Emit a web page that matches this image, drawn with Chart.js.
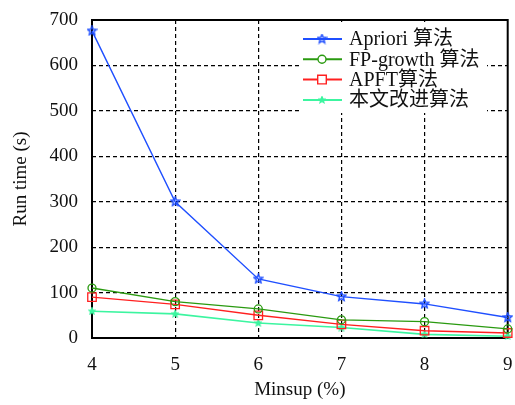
<!DOCTYPE html>
<html>
<head>
<meta charset="utf-8">
<script src="https://cdn.jsdelivr.net/npm/chart.js@4.4.1/dist/chart.umd.min.js"></script>
<style>
  html, body { margin: 0; padding: 0; background: #fff; }
  #wrap { width: 515px; height: 405px; }
</style>
</head>
<body>
<div id="wrap"><canvas id="myChart" width="515" height="405"></canvas></div>
<script>
// data
const minsup = [4, 5, 6, 7, 8, 9];
const apriori = [676, 300, 130, 91, 75, 45];
const fpGrowth = [110, 80, 64, 40, 36, 20];
const apft = [90, 74, 50, 30, 16, 11];
const ours = [59, 53, 33, 23, 8, 4];
const yTicks = [0, 100, 200, 300, 400, 500, 600, 700];
const names = ['Apriori 算法', 'FP-growth 算法', 'APFT算法', '本文改进算法'];

const serif = '"Liberation Serif", "Times New Roman", "Noto Sans CJK SC", serif';

// little star images for the point markers
function starImg(color, size, filled) {
  const c = document.createElement('canvas');
  c.width = size; c.height = size;
  const g = c.getContext('2d');
  const cx = size / 2, cy = size / 2, R = size / 2 - 1, r = R * 0.45;
  g.beginPath();
  for (let k = 0; k < 10; k++) {
    const rad = k % 2 === 0 ? R : r;
    const a = -Math.PI / 2 + k * Math.PI / 5;
    const px = cx + rad * Math.cos(a), py = cy + rad * Math.sin(a);
    if (k === 0) g.moveTo(px, py); else g.lineTo(px, py);
  }
  g.closePath();
  if (filled) { g.fillStyle = color; g.fill(); }
  g.strokeStyle = color; g.lineWidth = 1.5; g.stroke();
  return c;
}
const blueStar = starImg('#1f4fff', 11, false);
const cyanStar = starImg('#3cf5a0', 8, true);

function pts(vals) { return minsup.map((x, i) => ({ x: x, y: vals[i] })); }

const edgeless = (ctx) => {
  const n = ctx.scale.ticks.length;
  return (ctx.index === 0 || ctx.index === n - 1) ? 'rgba(0,0,0,0)' : '#000';
};

// frame round the plot
const frame = {
  id: 'frame',
  beforeDatasetsDraw(chart) {
    const a = chart.chartArea, c = chart.ctx;
    c.save();
    c.strokeStyle = '#000';
    c.lineWidth = 2;
    c.strokeRect(a.left, a.top, a.right - a.left, a.bottom - a.top);
    c.restore();
  },
  afterDraw(chart) {
    // top edge again, over the legend box
    const a = chart.chartArea, c = chart.ctx;
    c.save();
    c.strokeStyle = '#000';
    c.lineWidth = 2;
    c.beginPath(); c.moveTo(a.left, a.top); c.lineTo(a.right, a.top); c.stroke();
    c.restore();
  }
};

// legend inside the top right corner
const boxLegend = {
  id: 'boxLegend',
  afterDatasetsDraw(chart) {
    const c = chart.ctx, top = chart.chartArea.top;
    c.save();
    c.fillStyle = '#fff';
    c.fillRect(300, top + 2, 187, 91);
    chart.data.datasets.forEach((ds, i) => {
      const y = top + 19 + i * 20.3;
      c.strokeStyle = ds.borderColor;
      c.lineWidth = 2;
      c.beginPath(); c.moveTo(303, y); c.lineTo(342, y); c.stroke();
      if (ds.pointStyle instanceof HTMLCanvasElement) {
        const im = ds.pointStyle;
        c.drawImage(im, 322 - im.width / 2, y - im.height / 2);
      } else {
        c.lineWidth = 1.4;
        c.strokeStyle = ds.pointBorderColor;
        c.fillStyle = '#fff';
        c.beginPath();
        if (ds.pointStyle === 'circle') c.arc(322, y, 4, 0, Math.PI * 2);
        else c.rect(322 - 4.3, y - 4.3, 8.6, 8.6);
        c.fill(); c.stroke();
      }
      c.fillStyle = '#111';
      c.font = '20px ' + serif;
      c.textBaseline = 'middle';
      c.fillText(ds.label, 349, y + 1);
    });
    c.restore();
  }
};

const ctx = document.getElementById('myChart').getContext('2d');
const chart = new Chart(ctx, {
  type: 'line',
  data: {
    datasets: [
      { label: names[0], data: pts(apriori), borderColor: '#1f4fff', pointStyle: blueStar,
        borderWidth: 1.4, pointRadius: 5 },
      { label: names[1], data: pts(fpGrowth), borderColor: '#2a9a10', pointStyle: 'circle',
        pointBorderColor: '#2a9a10', pointBackgroundColor: 'rgba(0,0,0,0)',
        borderWidth: 1.4, pointRadius: 4, pointBorderWidth: 1.3 },
      { label: names[2], data: pts(apft), borderColor: '#ff2020', pointStyle: 'rect',
        pointBorderColor: '#ff2020', pointBackgroundColor: 'rgba(0,0,0,0)',
        borderWidth: 1.4, pointRadius: 6, pointBorderWidth: 1.3 },
      { label: names[3], data: pts(ours), borderColor: '#3cf5a0', pointStyle: cyanStar,
        borderWidth: 1.6, pointRadius: 4 }
    ]
  },
  options: {
    responsive: false,
    animation: false,
    clip: false,
    layout: { padding: { left: 0, right: 7, top: 20, bottom: 0 } },
    plugins: { legend: { display: false }, tooltip: { enabled: false } },
    scales: {
      x: {
        type: 'linear', min: 4, max: 9,
        afterFit(s) { s.height = 67; s.paddingLeft = 0; s.paddingRight = 0; },
        ticks: { stepSize: 1, color: '#111', padding: 16, font: { family: serif, size: 19 } },
        grid: { color: edgeless, drawTicks: false, lineWidth: 1.2 },
        border: { display: false, dash: [4, 3] },
        title: { display: true, text: 'Minsup (%)', color: '#111', padding: { top: 7 },
                 font: { family: serif, size: 19 } }
      },
      y: {
        min: 0, max: 700,
        afterFit(s) { s.width = 92; s.paddingTop = 0; s.paddingBottom = 0; },
        afterBuildTicks(s) { s.ticks = yTicks.map(v => ({ value: v })); },
        ticks: { color: '#111', padding: 14, font: { family: serif, size: 19 } },
        grid: { color: edgeless, drawTicks: false, lineWidth: 1.2 },
        border: { display: false, dash: [4, 3] },
        title: { display: true, text: 'Run time (s)', color: '#111', padding: { top: 10, bottom: 4 },
                 font: { family: serif, size: 19 } }
      }
    }
  },
  plugins: [frame, boxLegend]
});
</script>
</body>
</html>
